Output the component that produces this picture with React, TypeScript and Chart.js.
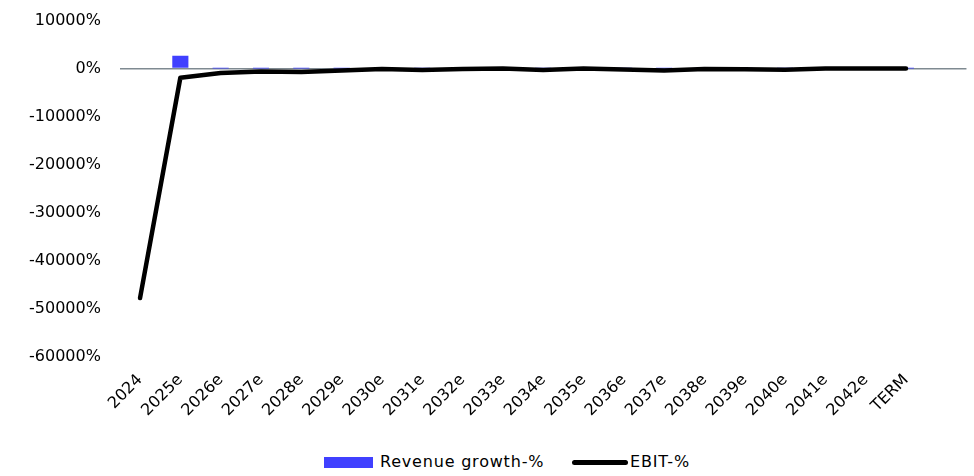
import React, { useEffect, useRef } from "react";
import { Chart, registerables } from "chart.js";

Chart.register(...registerables);

const categories = [
  "2024", "2025e", "2026e", "2027e", "2028e", "2029e", "2030e", "2031e", "2032e", "2033e",
  "2034e", "2035e", "2036e", "2037e", "2038e", "2039e", "2040e", "2041e", "2042e", "TERM", "",
];

const revenueGrowth = [
  null, 2700, 12, 10, 8, 7, 6, 5, 5, 4,
  4, 4, 3, 3, 3, 3, 2, 2, 2, 2, null,
];

const ebitPct = [
  -47800, -1900, -900, -600, -700, -400, -100, -300, -100, 0,
  -300, 0, -200, -400, -100, -150, -250, 0, 0, 0, null,
];

const yTicks = [10000, 0, -10000, -20000, -30000, -40000, -50000, -60000];

const FONT = "'DejaVu Sans', sans-serif";

export default function App() {
  const ref = useRef<HTMLCanvasElement | null>(null);

  useEffect(() => {
    if (!ref.current) return;
    const chart = new Chart(ref.current, {
      type: "bar",
      data: {
        labels: categories,
        datasets: [
          {
            type: "bar",
            label: "Revenue growth-%",
            data: revenueGrowth,
            backgroundColor: "#4040FF",
            categoryPercentage: 1,
            barPercentage: 0.4,
            order: 2,
          },
          {
            type: "line",
            label: "EBIT-%",
            data: ebitPct,
            borderColor: "#000000",
            backgroundColor: "#000000",
            borderWidth: 4.5,
            borderCapStyle: "round",
            borderJoinStyle: "round",
            pointRadius: 0,
            tension: 0,
            order: 1,
          },
        ],
      },
      options: {
        animation: false,
        responsive: false,
        maintainAspectRatio: false,
        layout: { padding: { left: 10, right: 5, top: 0, bottom: 0 } },
        plugins: {
          legend: { display: false },
          tooltip: { enabled: false },
        },
        scales: {
          x: {
            offset: true,
            grid: { display: false, drawTicks: false },
            border: { display: false },
            ticks: {
              maxRotation: 45,
              minRotation: 45,
              autoSkip: false,
              padding: 14,
              color: "#000",
              font: { family: FONT, size: 16 },
            },
          },
          y: {
            min: -60000,
            max: 10000,
            afterBuildTicks: (axis: any) => {
              axis.ticks = yTicks.map((v) => ({ value: v }));
            },
            grid: {
              drawTicks: false,
              color: (ctx: any) => (ctx.tick && ctx.tick.value === 0 ? "#7F8A91" : "rgba(0,0,0,0)"),
              lineWidth: 1.5,
            },
            border: { display: false },
            ticks: {
              padding: 19,
              color: "#000",
              font: { family: FONT, size: 16 },
              callback: (v: any) => `${v}%`,
            },
          },
        },
      },
    });
    return () => chart.destroy();
  }, []);

  const legendText: React.CSSProperties = {
    position: "absolute",
    top: 452,
    fontFamily: FONT,
    fontSize: 16,
    letterSpacing: "0.8px",
    color: "#000",
    whiteSpace: "nowrap",
    lineHeight: "20px",
  };

  return (
    <div style={{ position: "absolute", left: 0, top: 0, width: 974, height: 476, background: "#fff", overflow: "hidden" }}>
      <canvas ref={ref} width={974} height={442} style={{ display: "block", position: "absolute", left: 0, top: -8 }} />
      <span style={{ position: "absolute", left: 324, top: 457, width: 49, height: 11, background: "#4040FF" }} />
      <span style={{ ...legendText, left: 380 }}>Revenue growth-%</span>
      <span style={{ position: "absolute", left: 572, top: 460, width: 56, height: 5, borderRadius: 3, background: "#000" }} />
      <span style={{ ...legendText, left: 630 }}>EBIT-%</span>
    </div>
  );
}
